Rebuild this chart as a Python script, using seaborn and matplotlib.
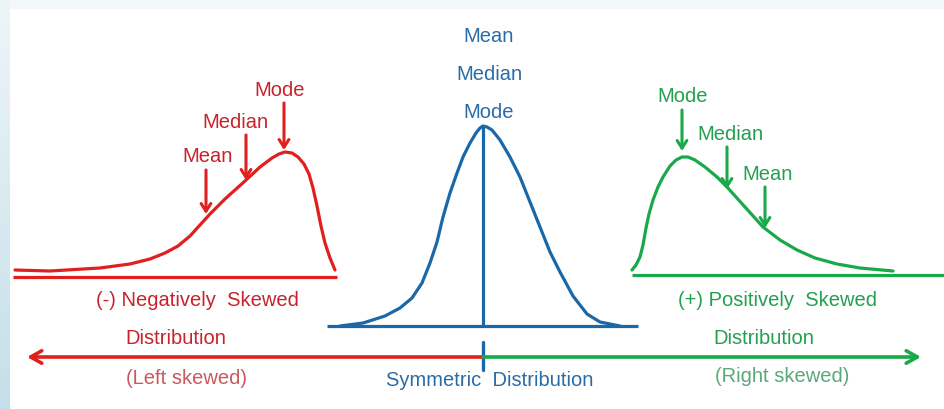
import numpy as np
import matplotlib
matplotlib.use("Agg")
from matplotlib import pyplot as plt
import seaborn as sns

sns.set_style("white")
plt.rcParams['font.family'] = ['Liberation Sans', 'DejaVu Sans']

# curves (pixel space, y grows downwards)
neg_x = [15, 50, 100, 130, 150, 165, 178, 190, 200, 210, 225, 245, 260, 272, 279, 285, 292, 298, 304, 309, 313, 317, 321, 325, 330, 335]
neg_y = [270, 271, 268, 264, 259, 253, 246, 236, 225, 214, 199, 181, 167, 158, 154, 152, 153, 157, 164, 174, 188, 206, 226, 243, 258, 270]

sym_x = [340, 363, 385, 400, 412, 422, 430, 437, 443, 450, 457, 463, 470, 476, 480, 483, 487, 492, 500, 510, 520, 530, 540, 550, 560, 573, 587, 600, 620]
sym_y = [326, 323, 316, 308, 298, 283, 263, 242, 217, 193, 173, 157, 143, 133, 128, 126, 127, 130, 140, 157, 177, 202, 227, 252, 272, 296, 314, 322, 326]

pos_x = [632, 636, 640, 643, 646, 649, 653, 658, 663, 670, 676, 682, 688, 695, 705, 717, 727, 745, 763, 780, 797, 815, 837, 860, 893]
pos_y = [270, 265, 257, 245, 228, 214, 200, 187, 177, 166, 160, 157, 157, 160, 167, 177, 187, 207, 227, 240, 250, 258, 264, 268, 271]

# baselines: (x start, x end, y)
neg_base = (13, 337, 277)
sym_base = (327, 638, 326)
pos_base = (632, 945, 275)

# annotation arrows: label, x, arrow top, arrow tip
neg_marks = [("Mean", 206, 170, 214), ("Median", 246, 135, 180), ("Mode", 284, 103, 150)]
pos_marks = [("Mode", 682, 110, 151), ("Median", 727, 147, 189), ("Mean", 765, 187, 228)]
sym_labels = ["Mean", "Median", "Mode"]

RED, RED_T, RED_L = "#e0201f", "#c8232b", "#c85a5e"
BLUE, BLUE_T = "#1b68a8", "#2a6ca6"
GREEN, GREEN_T, GREEN_L = "#19a94a", "#22a050", "#5aa87a"

fig = plt.figure(figsize=(9.45, 4.09), dpi=100)
ax = fig.add_axes([0, 0, 1, 1])
ax.set_xlim(0, 945)
ax.set_ylim(409, 0)
ax.axis("off")

# light frame at the top and left edge
ax.axhspan(0, 8, color="#f2f7fa", zorder=0)
grad = np.linspace(0, 1, 100).reshape(-1, 1)
ax.imshow(grad, extent=(0, 10, 409, 0), cmap=matplotlib.colors.LinearSegmentedColormap.from_list(
    "edge", ["#eef5f8", "#c4dfe9"]), aspect="auto", zorder=0)

lw = 2.3
for xs, ys, c in [(neg_x, neg_y, RED), (sym_x, sym_y, BLUE), (pos_x, pos_y, GREEN)]:
    sns.lineplot(x=xs, y=ys, sort=False, color=c, lw=lw, ax=ax,
                 solid_joinstyle="round", solid_capstyle="round")
for (x0, x1, y), c in [(neg_base, RED), (sym_base, BLUE), (pos_base, GREEN)]:
    ax.plot([x0, x1], [y, y], color=c, lw=lw, solid_capstyle="butt")

# symmetric centre line
ax.plot([483, 483], [126, 326], color=BLUE, lw=lw)

fs = 14.5
for (lab, x, y0, y1), c in [(m, RED) for m in neg_marks] + [(m, GREEN) for m in pos_marks]:
    ax.annotate("", xy=(x, y1), xytext=(x, y0),
                arrowprops=dict(arrowstyle="->,head_length=0.55,head_width=0.35", color=c, lw=2.2,
                                shrinkA=0, shrinkB=0))
txt_red = [("Mean", 208, 157), ("Median", 235, 122), ("Mode", 280, 90)]
txt_green = [("Mode", 683, 97), ("Median", 730, 134), ("Mean", 768, 175)]
for lab, x, y in txt_red:
    ax.text(x, y, lab, color=RED_T, fontsize=fs, ha="center", va="center")
for lab, x, y in txt_green:
    ax.text(x, y, lab, color=GREEN_T, fontsize=fs, ha="center", va="center")
for lab, y in zip(sym_labels, [37, 75, 113]):
    ax.text(489, y, lab, color=BLUE_T, fontsize=fs, ha="center", va="center")

# long direction arrows
ax.annotate("", xy=(27, 357), xytext=(483, 357),
            arrowprops=dict(arrowstyle="->,head_length=0.8,head_width=0.45", color=RED, lw=2.6,
                            shrinkA=0, shrinkB=0))
ax.annotate("", xy=(921, 357), xytext=(483, 357),
            arrowprops=dict(arrowstyle="->,head_length=0.8,head_width=0.45", color=GREEN, lw=2.6,
                            shrinkA=0, shrinkB=0))
ax.plot([483, 483], [342, 370], color=BLUE, lw=2.4)

ax.text(197, 300, "(-) Negatively  Skewed", color=RED_T, fontsize=fs, ha="center", va="center")
ax.text(176, 338, "Distribution", color=RED_T, fontsize=fs, ha="center", va="center")
ax.text(187, 378, "(Left skewed)", color=RED_L, fontsize=fs, ha="center", va="center")

ax.text(778, 301, "(+) Positively  Skewed", color=GREEN_T, fontsize=fs, ha="center", va="center")
ax.text(764, 338, "Distribution", color=GREEN_T, fontsize=fs, ha="center", va="center")
ax.text(782, 376, "(Right skewed)", color=GREEN_L, fontsize=fs, ha="center", va="center")

ax.text(490, 380, "Symmetric  Distribution", color=BLUE_T, fontsize=fs, ha="center", va="center")

fig.savefig("out.png", dpi=100, facecolor="white")
